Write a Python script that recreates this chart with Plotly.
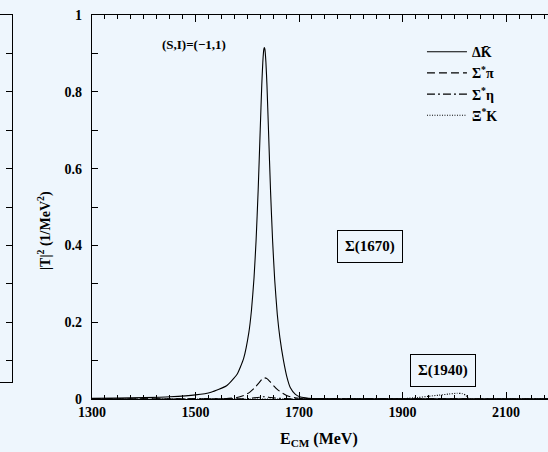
import plotly.graph_objects as go

# ---- data ----
E_dk = [1300, 1350, 1400, 1450, 1500, 1530, 1560, 1580, 1593, 1603, 1608, 1613, 1617, 1621,
        1625, 1628, 1630, 1632, 1633, 1634, 1636, 1638, 1641, 1645, 1649, 1653, 1658, 1663,
        1670, 1677, 1683, 1693, 1703, 1718, 1740, 1800, 1900, 2000, 2100, 2200]
T_dk = [0.0017, 0.0024, 0.0035, 0.0057, 0.0107, 0.0178, 0.0347, 0.0637, 0.106, 0.173, 0.230,
        0.315, 0.413, 0.543, 0.701, 0.818, 0.877, 0.911, 0.915, 0.911, 0.877, 0.818, 0.70,
        0.54, 0.41, 0.31, 0.22, 0.16, 0.10, 0.055, 0.030, 0.012, 0.005, 0.002, 0.001, 0.0008,
        0.0005, 0.0005, 0.0004, 0.0003]

E_spi = [1300, 1450, 1540, 1560, 1580, 1595, 1605, 1615, 1622, 1628, 1633, 1638, 1644, 1650,
         1658, 1666, 1675, 1685, 1700, 1720, 1800, 2000, 2200]
T_spi = [0.0003, 0.0005, 0.0008, 0.001, 0.004, 0.010, 0.018, 0.030, 0.041, 0.051, 0.055, 0.053,
         0.045, 0.036, 0.025, 0.017, 0.010, 0.005, 0.002, 0.001, 0.0004, 0.0002, 0.0001]

E_seta = [1300, 1500, 1580, 1600, 1620, 1633, 1645, 1670, 1700, 1900, 2200]
T_seta = [0.0001, 0.0002, 0.0005, 0.001, 0.004, 0.006, 0.004, 0.001, 0.0004, 0.0002, 0.0001]

E_xk = [1300, 1700, 1900, 1930, 1950, 1970, 1990, 2005, 2015, 2022, 2026, 2030, 2050, 2200]
T_xk = [0.0, 0.0002, 0.001, 0.004, 0.007, 0.010, 0.013, 0.015, 0.014, 0.010, 0.003, 0.001, 0.0005, 0.0003]

names = ["ΔK\u0304", "Σ<sup>*</sup>π", "Σ<sup>*</sup>η", "Ξ<sup>*</sup>K"]
dashes = ["solid", "8px,4px", "8px,3px,2px,3px", "1px,1.5px"]

x_ticks = [1300, 1500, 1700, 1900, 2100]
y_ticks = [0, 0.2, 0.4, 0.6, 0.8, 1]
y_ticktext = ["0", "0.2", "0.4", "0.6", "0.8", "1"]

BG = "#eef6fd"
FONT = "Liberation Serif"

fig = go.Figure()
for xs, ys, nm, ds in zip([E_dk, E_spi, E_seta, E_xk], [T_dk, T_spi, T_seta, T_xk], names, dashes):
    fig.add_trace(go.Scatter(x=xs, y=ys, mode="lines", name=nm,
                             line=dict(color="black", width=1.1, dash=ds, shape="spline", smoothing=0.5)))

# remnant of neighbouring panel (frame only)
fig.add_trace(go.Scatter(x=[None], y=[None], xaxis="x2", yaxis="y2", showlegend=False))

fig.update_layout(
    template="none",
    width=548, height=452,
    margin=dict(l=0, r=0, t=15, b=53, pad=0),
    paper_bgcolor=BG, plot_bgcolor=BG,
    font=dict(family=FONT, size=14, color="black", weight="bold"),
    showlegend=True,
    legend=dict(x=0.77, y=0.945, xanchor="left", yanchor="top", bgcolor="rgba(0,0,0,0)",
                font=dict(size=14, family=FONT, weight="bold"), itemwidth=40, tracegroupgap=0),
    xaxis=dict(domain=[92 / 548, 1], range=[1300, 2181], tickvals=x_ticks, automargin=False,
               ticks="inside", ticklen=7, tickwidth=1, tickcolor="black",
               minor=dict(dtick=25, tick0=1300, ticks="inside", ticklen=4, tickcolor="black"),
               showline=True, linecolor="black", linewidth=1.2, mirror="ticks",
               showgrid=False, zeroline=False, anchor="y",
               tickfont=dict(size=14, family=FONT, weight="bold")),
    yaxis=dict(domain=[0, 1], range=[0, 1], tickvals=y_ticks, ticktext=y_ticktext, automargin=False,
               ticks="inside", ticklen=6, tickwidth=1, tickcolor="black",
               minor=dict(dtick=0.1, tick0=0, ticks="inside", ticklen=6, tickcolor="black"),
               showline=True, linecolor="black", linewidth=1.2, showgrid=False, zeroline=False,
               ticklabelstandoff=6, anchor="x",
               tickfont=dict(size=14, family=FONT, weight="bold")),
    xaxis2=dict(domain=[0, 12 / 548], range=[0, 1], showline=True, linecolor="black", linewidth=1.2,
                mirror=True, ticks="", showticklabels=False, showgrid=False, zeroline=False,
                anchor="y2", automargin=False),
    yaxis2=dict(domain=[(399 - 382) / 384, 1], range=[(399 - 382) / 384, 1], side="right",
                anchor="x2", dtick=0.1, tick0=0, ticks="inside", ticklen=6, tickcolor="black",
                showticklabels=False, showline=True, linecolor="black", linewidth=1.2,
                showgrid=False, zeroline=False, automargin=False),
)

fig.add_annotation(text="(S,I)=(−1,1)", xref="x", yref="y", x=1497, y=0.922, showarrow=False,
                   font=dict(size=13, family=FONT, weight="bold"))
fig.add_annotation(text="Σ(1670)", xref="x", yref="y", x=1838, y=0.396, showarrow=False,
                   bordercolor="black", borderwidth=1, borderpad=7,
                   font=dict(size=15, family=FONT, weight="bold"))
fig.add_annotation(text="Σ(1940)", xref="x", yref="y", x=1978, y=0.0755, showarrow=False,
                   bordercolor="black", borderwidth=1, borderpad=7,
                   font=dict(size=15, family=FONT, weight="bold"))
fig.add_annotation(text="E<sub>CM</sub> (MeV)", xref="x", yref="paper", x=1739, y=-0.105,
                   showarrow=False, xanchor="center", yanchor="middle",
                   font=dict(size=16, family=FONT, weight="bold"))
fig.add_annotation(text="|T|<sup>2</sup> (1/MeV<sup>2</sup>)", xref="paper", yref="paper",
                   x=44 / 548, y=0.4375, textangle=-90, showarrow=False,
                   xanchor="center", yanchor="middle",
                   font=dict(size=14, family=FONT, weight="bold"))

fig.write_html("out.html", config={"displayModeBar": False},
               post_script="document.body.style.margin='0';document.body.style.overflow='hidden';")
